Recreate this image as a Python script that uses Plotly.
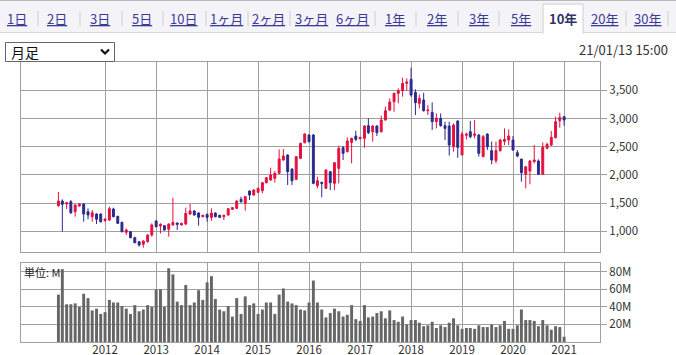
import plotly.graph_objects as go
import pandas as pd

# ---------------- data ----------------
months = pd.date_range("2011-02-01", periods=120, freq="MS")

opens = [1454,1537,1484,1525,1348,1448,1484,1348,1259,1307,
         1307,1188,1200,1395,1265,1159,981,993,887,816,
         769,816,934,1182,1094,1100,1035,1112,1147,1112,
         1129,1307,1360,1324,1259,1301,1247,1324,1283,1259,
         1289,1389,1407,1567,1496,1714,1643,1691,1720,1862,
         1909,1939,2028,2264,2353,2104,1921,2294,2571,2707,
         2707,1809,1868,1762,2057,1850,2116,2483,2412,2577,
         2689,2642,2648,2873,2766,2867,2766,2973,3150,3298,
         3446,3493,3623,3694,3464,3269,3328,3139,3109,2944,
         3003,2873,2867,2500,2955,2353,2701,2766,2701,2707,
         2323,2725,2430,2252,2430,2595,2619,2619,2394,2282,
         2010,2069,2235,2246,2010,2471,2530,2660,2961,3032]

highs = [1697,1567,1519,1555,1478,1496,1496,1407,1377,1318,
         1318,1230,1437,1419,1277,1171,1052,1005,905,828,
         840,946,1141,1200,1141,1112,1141,1596,1159,1153,
         1419,1484,1377,1336,1295,1313,1407,1336,1295,1295,
         1413,1431,1549,1614,1626,1726,1744,1774,1874,1963,
         2128,2069,2453,2459,2364,2116,2335,2571,2737,2725,
         2725,1968,1880,2099,2069,2229,2518,2512,2666,2660,
         2784,2678,2879,3003,2879,2879,3050,3210,3357,3458,
         3535,3724,3712,3901,3517,3428,3458,3239,3286,3091,
         3091,2944,2944,2914,2973,2766,2749,2955,2973,2725,
         2707,2737,2589,2589,2636,2825,2808,2689,2441,2282,
         2158,2264,2530,2276,2577,2571,2778,3032,3103,3032]

lows = [1437,993,1395,1307,1259,1437,1171,1212,1171,1129,
        1153,1171,1182,1247,1129,981,934,875,787,727,
        710,798,905,1070,964,1011,905,1100,1023,1100,
        1112,1289,1277,1100,1247,1171,1188,1247,1236,1200,
        1277,1377,1395,1507,1366,1555,1632,1679,1673,1850,
        1897,1862,2016,2252,1821,1821,1909,2282,2559,2577,
        1833,1762,1602,1750,1732,1732,1850,2264,2400,2205,
        2601,2630,2483,2725,2589,2689,2749,2961,3133,3121,
        3269,3387,3493,3387,3062,3180,3121,3062,2796,2825,
        2855,2619,2341,2412,2305,2353,2630,2648,2648,2323,
        2323,2441,2187,2205,2412,2530,2530,2429,2311,1880,
        1762,1833,2205,2010,2010,2453,2512,2648,2837,2873]

closes = [1537,1478,1508,1330,1466,1484,1307,1289,1330,1212,
          1171,1218,1401,1259,1141,993,1023,887,798,757,
          828,934,1112,1082,1123,1023,1129,1159,1123,1141,
          1318,1360,1289,1247,1283,1247,1324,1259,1247,1283,
          1401,1419,1537,1525,1614,1643,1732,1762,1862,1951,
          1998,2028,2282,2335,2057,1897,2323,2559,2725,2589,
          1850,1897,1850,2087,1862,2217,2471,2382,2601,2648,
          2630,2666,2867,2749,2867,2749,2973,3139,3292,3446,
          3493,3623,3647,3416,3280,3357,3139,3150,2944,3003,
          2873,2825,2530,2885,2489,2725,2725,2678,2725,2382,
          2678,2500,2264,2430,2619,2630,2689,2441,2335,2039,
          2146,2246,2264,2010,2489,2542,2666,2944,3020,2973]

volumes_m = [54,83,43,43,44,40,55,50,36,38,
             32,34,48,45,45,41,38,32,42,35,
             37,42,40,60,60,40,84,77,46,42,
             65,42,45,59,48,68,75,49,37,35,
             41,29,50,32,52,42,44,32,37,45,
             45,32,54,61,46,44,42,37,36,45,
             70,45,37,28,33,38,35,29,31,42,
             26,24,42,28,29,33,35,27,36,25,
             23,29,20,25,25,22,18,19,23,16,
             19,17,22,27,19,15,16,16,15,19,
             17,17,20,17,19,24,15,15,19,37,
             25,25,24,18,25,19,14,18,17,6]

price_ticks = [1000, 1500, 2000, 2500, 3000, 3500]
volume_ticks = [20, 40, 60, 80]
volume_labels = ["20M", "40M", "60M", "80M"]
year_ticks = [f"{y}-01-01" for y in range(2012, 2022)]
year_labels = [str(y) for y in range(2012, 2022)]

tabs = ["1日", "2日", "3日", "5日", "10日", "1ヶ月", "2ヶ月", "3ヶ月", "6ヶ月",
        "1年", "2年", "3年", "5年", "10年", "20年", "30年"]
selected_tab = "10年"
timestamp = "21/01/13 15:00"
period_label = "月足"
unit_label = "単位: M"

assert len(opens) == len(highs) == len(lows) == len(closes) == len(volumes_m) == 120

# ---------------- layout helpers ----------------
W, H = 676, 355
def px(x):
    return x / W
def py(y):
    return 1 - y / H

RED = "#e5103f"
BLUE = "#2b2a8c"
GRID = "#a0a0a0"
FONT = "Noto Sans CJK JP"
TXT = "#333333"

fig = go.Figure()
fig.add_trace(go.Candlestick(
    x=months, open=opens, high=highs, low=lows, close=closes,
    increasing=dict(line=dict(color=RED, width=1), fillcolor=RED),
    decreasing=dict(line=dict(color=BLUE, width=1), fillcolor=BLUE),
    whiskerwidth=0, xaxis="x", yaxis="y", hoverinfo="skip"))
fig.add_trace(go.Bar(
    x=months, y=volumes_m, marker=dict(color="#666666", line=dict(width=0)),
    xaxis="x2", yaxis="y2", hoverinfo="skip"))

xr = ["2010-05-09", "2021-09-15"]
axis_common = dict(showline=True, mirror=True, linecolor=GRID, linewidth=1,
                   gridcolor=GRID, gridwidth=1, zeroline=False, automargin=False)

fig.update_layout(
    width=W, height=H, margin=dict(l=0, r=0, t=0, b=0, autoexpand=False),
    paper_bgcolor="white", plot_bgcolor="white", showlegend=False,
    bargap=0.25, boxgap=0.3,
    font=dict(family=FONT, size=11, color=TXT),
    xaxis=dict(domain=[px(21), px(600)], range=xr, type="date",
               tickvals=year_ticks, showticklabels=False, ticks="",
               rangeslider=dict(visible=False), anchor="y", **axis_common),
    yaxis=dict(domain=[py(252), py(62)], range=[633, 4002], side="right",
               tickvals=price_ticks, tickformat=",", ticks="outside",
               ticklen=6, tickcolor=GRID, anchor="x",
               tickfont=dict(size=11.5, color=TXT), **axis_common),
    xaxis2=dict(domain=[px(21), px(600)], range=xr, type="date", matches="x",
                tickvals=year_ticks, ticktext=year_labels, ticks="",
                ticklabelstandoff=-3,
                anchor="y2", tickfont=dict(size=11.5, color=TXT), **axis_common),
    yaxis2=dict(domain=[py(342), py(263)], range=[0, 90], side="right",
                tickvals=volume_ticks, ticktext=volume_labels, ticks="outside",
                ticklen=6, tickcolor=GRID, anchor="x2",
                tickfont=dict(size=11.5, color=TXT), **axis_common),
)

shapes = []
annotations = []
# tab bar
shapes.append(dict(type="rect", xref="paper", yref="paper", x0=0, x1=1,
                   y0=py(32), y1=py(0), fillcolor="#f3f3f8", line=dict(width=0), layer="below"))
shapes.append(dict(type="line", xref="paper", yref="paper", x0=0, x1=1,
                   y0=py(0.5), y1=py(0.5), line=dict(color="#b8b8b8", width=1)))
shapes.append(dict(type="line", xref="paper", yref="paper", x0=0, x1=1,
                   y0=py(32.5), y1=py(32.5), line=dict(color="#d8d8d8", width=1)))
# selected tab
shapes.append(dict(type="rect", xref="paper", yref="paper", x0=px(543), x1=px(583),
                   y0=py(33.5), y1=py(4), fillcolor="white", line=dict(color="#d0d0d0", width=1)))
shapes.append(dict(type="line", xref="paper", yref="paper", x0=px(543.5), x1=px(582.5),
                   y0=py(33), y1=py(33), line=dict(color="white", width=2)))

tab_centers = [17, 57, 100, 142, 183, 226, 268, 311, 352, 395, 437, 479, 521, 563, 604, 647]
separators = [38, 80, 122, 163, 206, 248, 290, 375, 416, 458, 499, 626, 668]
for sx in separators:
    shapes.append(dict(type="line", xref="paper", yref="paper", x0=px(sx), x1=px(sx),
                       y0=py(26), y1=py(11), line=dict(color="#d0d0d0", width=1)))
for label, cx in zip(tabs, tab_centers):
    if label == selected_tab:
        txt = f"<b>{label}</b>"
        col = "#333366"
    else:
        txt = f"<u>{label}</u>"
        col = "#3a3a96"
    annotations.append(dict(text=txt, x=px(cx), y=py(18.5), xref="paper", yref="paper",
                            xanchor="center", yanchor="middle", showarrow=False,
                            font=dict(family=FONT, size=13, color=col)))

# dropdown
shapes.append(dict(type="rect", xref="paper", yref="paper", x0=px(5.5), x1=px(114.5),
                   y0=py(61.5), y1=py(42.5), fillcolor="white", line=dict(color="#666666", width=1)))
shapes.append(dict(type="path", xref="paper", yref="paper",
                   path=f"M {px(101)},{py(49.5)} L {px(105)},{py(53.5)} L {px(109)},{py(49.5)}",
                   line=dict(color="#111111", width=2.2)))
annotations.append(dict(text=period_label, x=px(9), y=py(52), xref="paper", yref="paper",
                        xanchor="left", yanchor="middle", showarrow=False,
                        font=dict(family=FONT, size=14, color="#111111")))
# timestamp
annotations.append(dict(text=timestamp, x=px(670), y=py(49), xref="paper", yref="paper",
                        xanchor="right", yanchor="middle", showarrow=False,
                        font=dict(family=FONT, size=13, color=TXT)))
# unit label
annotations.append(dict(text=unit_label, x=px(22), y=py(272), xref="paper", yref="paper",
                        xanchor="left", yanchor="middle", showarrow=False,
                        font=dict(family=FONT, size=11, color="#222222")))

fig.update_layout(shapes=shapes, annotations=annotations)
fig.write_html("out.html")
